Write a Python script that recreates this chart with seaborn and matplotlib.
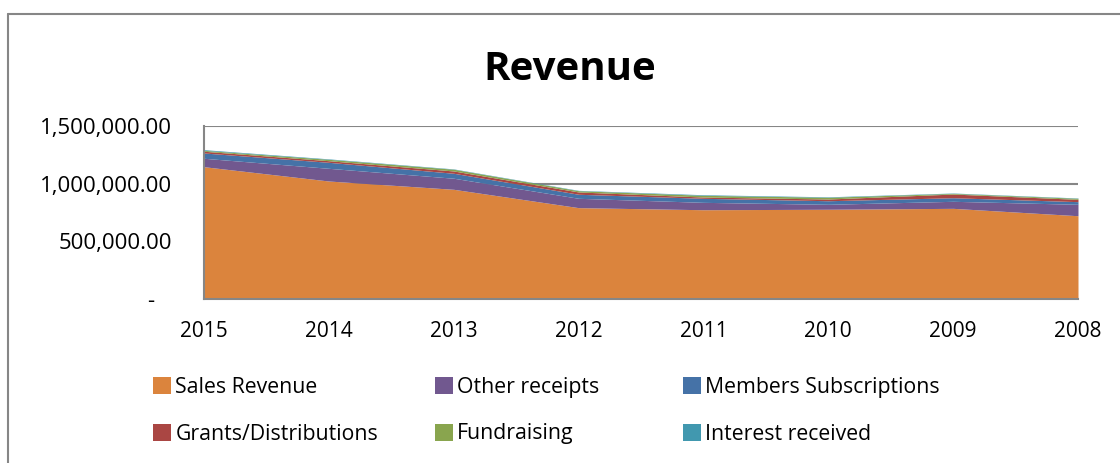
import matplotlib
matplotlib.use("Agg")
from matplotlib import pyplot as plt
from matplotlib.lines import Line2D
from matplotlib.patches import Patch
import pandas as pd
import seaborn as sns

# Revenue data (values in pounds)
years = ["2015", "2014", "2013", "2012", "2011", "2010", "2009", "2008"]
sales_revenue = [1147000, 1023000, 951000, 792000, 774000, 778000, 786000, 722000]
other_receipts = [73000, 110000, 96000, 81000, 64000, 43000, 61000, 99000]
members_subs = [46000, 52000, 43000, 35000, 35000, 31000, 31000, 23000]
grants = [15000, 14000, 20000, 20000, 11000, 15000, 32000, 20000]
fundraising = [8000, 12000, 15000, 11000, 15000, 15000, 6000, 9000]
interest = [6000, 4000, 3000, 3000, 5000, 4000, 3000, 3000]

series_names = ["Sales Revenue", "Other receipts", "Members Subscriptions",
                "Grants/Distributions", "Fundraising", "Interest received"]
series_values = [sales_revenue, other_receipts, members_subs, grants, fundraising, interest]
colors = ["#DB843D", "#71588F", "#4572A7", "#AA4643", "#89A54E", "#4198AF"]

rows = []
for name, vals in zip(series_names, series_values):
    for i, v in enumerate(vals):
        rows.append({"pos": i, "value": v, "series": name})
df = pd.DataFrame(rows)

sns.set_style("white")
plt.rcParams["font.family"] = ["Open Sans", "DejaVu Sans"]
plt.rcParams["text.color"] = "black"
plt.rcParams["xtick.color"] = "black"
plt.rcParams["ytick.color"] = "black"

fig = plt.figure(figsize=(11.2, 4.63), dpi=100)
ax = fig.add_axes([204 / 1120, 1 - 299 / 463, (1078 - 204) / 1120, (299 - 126) / 463])

# seaborn stacks the last hue level at the bottom, so reverse the order
hue_order = series_names[::-1]
palette = dict(zip(series_names, colors))
sns.histplot(data=df, x="pos", weights="value", hue="series", hue_order=hue_order,
             multiple="stack", element="poly", discrete=True, palette=palette,
             alpha=1, linewidth=0, legend=False, ax=ax)

ax.set_xlim(0, len(years) - 1)
ax.set_ylim(0, 1500000)
ax.set_xticks(range(len(years)))
ax.set_xticklabels(years)
ax.set_yticks([0, 500000, 1000000, 1500000])
ax.set_yticklabels(["-   "] + ["{:,.2f}".format(v) for v in [500000, 1000000, 1500000]])
ax.set_xlabel("")
ax.set_ylabel("")
ax.tick_params(axis="x", length=0, pad=16, labelsize=15)
ax.tick_params(axis="y", length=0, pad=23, labelsize=16)

ax.yaxis.grid(True, color="#868686", linewidth=1.5)
ax.set_axisbelow(True)
for side in ["top", "right"]:
    ax.spines[side].set_visible(False)
for side in ["left", "bottom"]:
    ax.spines[side].set_color("#868686")
    ax.spines[side].set_linewidth(1.5)

fig.text(570 / 1120, 1 - 69 / 463, "Revenue", ha="center", va="center",
         fontsize=29, fontweight="bold")

# legend in three columns placed like the original
handles = [Patch(facecolor=c, edgecolor="none") for c in colors]
col_x = [153, 435, 683]
for k in range(3):
    leg = fig.legend([handles[k], handles[k + 3]], [series_names[k], series_names[k + 3]],
                     loc="upper left", bbox_to_anchor=(col_x[k] / 1120, 1 - 377 / 463),
                     frameon=False, fontsize=15.3, handlelength=0.85, handleheight=0.85,
                     handletextpad=0.2, labelspacing=1.2, borderpad=0, borderaxespad=0)

# outer chart border
border_kw = dict(color="#868686", linewidth=1.5, transform=fig.transFigure)
fig.add_artist(Line2D([8 / 1120, 8 / 1120], [0, 1 - 14 / 463], **border_kw))
fig.add_artist(Line2D([8 / 1120, 1], [1 - 14 / 463, 1 - 14 / 463], **border_kw))

plt.savefig("out.png", dpi=100)
